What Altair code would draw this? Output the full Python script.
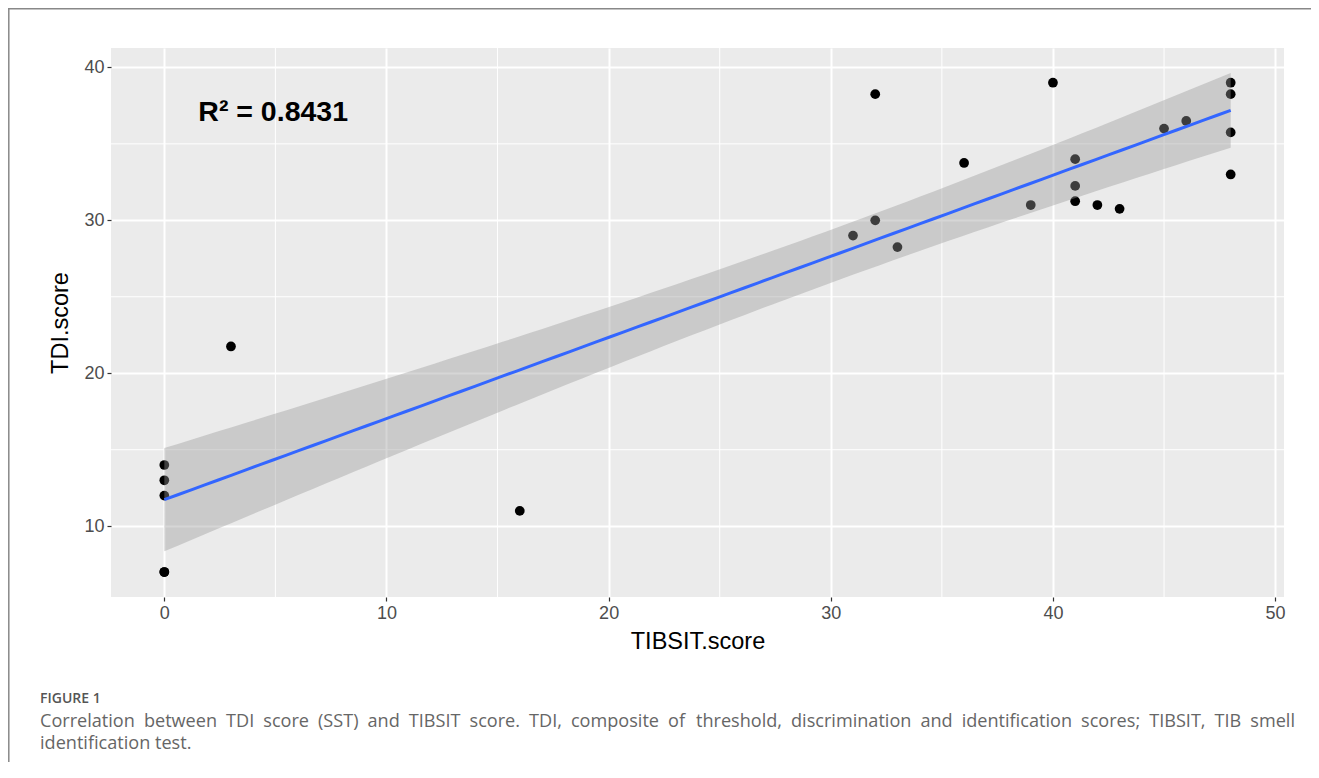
import altair as alt
import numpy as np
import pandas as pd

# ---- data (the point at (0, 7) is drawn twice, overlapping) ----
tibsit = [0, 0, 0, 0, 0, 3, 16, 31, 32, 32, 33, 36, 39, 40, 41, 41, 41, 42, 43, 45, 46, 48, 48, 48, 48]
tdi = [14, 13, 12, 7, 7, 21.75, 11, 29, 30, 38.25, 28.25, 33.75, 31, 39, 34, 32.25, 31.25, 31, 30.75,
       36, 36.5, 39, 38.25, 35.75, 33]

x_major = [0, 10, 20, 30, 40, 50]
y_major = [10, 20, 30, 40]
x_minor = [5, 15, 25, 35, 45]
y_minor = [15, 25, 35]

annotation_text = ["R\u00b2 = 0.8431"]
annotation_x = [4.9]
annotation_y = [36.5]

caption_label = ["FIGURE 1"]
caption_words_1a = ["Correlation", "between", "TDI", "score", "(SST)", "and", "TIBSIT", "score.", "TDI,",
                    "composite", "of"]
caption_words_1b = ["threshold,", "discrimination", "and", "identification", "scores;", "TIBSIT,", "TIB",
                    "smell"]
caption_line2 = ["identification test."]

x_title = "TIBSIT.score"
y_title = "TDI.score"

# ---- linear model with 95% confidence band (as geom_smooth(method='lm')) ----
xa = np.array(tibsit, float)
ya = np.array(tdi, float)
n = len(xa)
slope, intercept = np.polyfit(xa, ya, 1)
xs = np.linspace(xa.min(), xa.max(), 80)
fit = intercept + slope * xs
resid = ya - (intercept + slope * xa)
s = np.sqrt((resid ** 2).sum() / (n - 2))
sxx = ((xa - xa.mean()) ** 2).sum()
se = s * np.sqrt(1.0 / n + (xs - xa.mean()) ** 2 / sxx)
tq = 2.0687  # t quantile 0.975, df = 23
lo = fit - tq * se
hi = fit + tq * se

pts = pd.DataFrame({"tib": tibsit, "tdi": tdi})
smooth = pd.DataFrame({"x": xs, "fit": fit, "lo": lo, "hi": hi})

# ggplot-style 5% expansion
xmin, xmax = xa.min(), xa.max()
ymin, ymax = min(ya.min(), lo.min()), max(ya.max(), hi.max())
xd = [xmin - 0.05 * (xmax - xmin), xmax + 0.05 * (xmax - xmin)]
yd = [ymin - 0.05 * (ymax - ymin), ymax + 0.05 * (ymax - ymin)]

W, H = 1173, 549
PAD = {"left": 103, "top": 40, "right": 27, "bottom": 165}

xscale = alt.Scale(domain=xd, nice=False, zero=False)
yscale = alt.Scale(domain=yd, nice=False, zero=False)

FONT = "Liberation Sans"
CAPFONT = "Open Sans"
CAPSIZE = 18.1
EN = "\u2002"

common_axis = dict(grid=True, gridColor="white", gridWidth=2, domain=False, ticks=True,
                   tickColor="#333333", tickWidth=1.2, tickSize=4, labelColor="#4D4D4D",
                   labelFontSize=18, labelPadding=3, labelFont=FONT, titleFont=FONT,
                   titleFontSize=23.5, titleColor="black", titleFontWeight="normal", format="d")
xaxis = alt.Axis(values=x_major, title=x_title, titlePadding=7, **common_axis)
yaxis = alt.Axis(values=y_major, title=y_title, titlePadding=11, **common_axis)

base_pts = alt.Chart(pts).mark_circle(size=95, color="black", opacity=1).encode(
    x=alt.X("tib:Q", scale=xscale, axis=xaxis),
    y=alt.Y("tdi:Q", scale=yscale, axis=yaxis),
)

minor_x = alt.Chart(pd.DataFrame({"v": x_minor})).mark_rule(color="white", strokeWidth=1).encode(
    x=alt.X("v:Q", scale=xscale)
)
minor_y = alt.Chart(pd.DataFrame({"v": y_minor})).mark_rule(color="white", strokeWidth=1).encode(
    y=alt.Y("v:Q", scale=yscale)
)

ribbon = alt.Chart(smooth).mark_area(color="#999999", opacity=0.4).encode(
    x=alt.X("x:Q", scale=xscale),
    y=alt.Y("lo:Q", scale=yscale),
    y2="hi:Q",
)
line = alt.Chart(smooth).mark_line(color="#3366FF", strokeWidth=3).encode(
    x=alt.X("x:Q", scale=xscale),
    y=alt.Y("fit:Q", scale=yscale),
)

ann = alt.Chart(pd.DataFrame({"x": annotation_x, "y": annotation_y, "t": annotation_text})).mark_text(
    font=FONT, fontSize=28.5, fontWeight="bold", color="black", align="center", baseline="alphabetic"
).encode(
    x=alt.X("x:Q", scale=xscale),
    y=alt.Y("y:Q", scale=yscale),
    text="t:N",
)

cap0 = alt.Chart(pd.DataFrame({"t": caption_label})).mark_text(
    font=CAPFONT, fontSize=14, fontWeight=600, color="#555555", align="left", baseline="alphabetic"
).encode(x=alt.value(-71), y=alt.value(655), text="t:N")
cap1a = alt.Chart(pd.DataFrame({"t": [EN.join(caption_words_1a)]})).mark_text(
    font=CAPFONT, fontSize=CAPSIZE, color="#666666", align="left", baseline="alphabetic"
).encode(x=alt.value(-71), y=alt.value(679), text="t:N")
cap1b = alt.Chart(pd.DataFrame({"t": [EN.join(caption_words_1b)]})).mark_text(
    font=CAPFONT, fontSize=CAPSIZE, color="#666666", align="right", baseline="alphabetic"
).encode(x=alt.value(1184), y=alt.value(679), text="t:N")
cap2 = alt.Chart(pd.DataFrame({"t": caption_line2})).mark_text(
    font=CAPFONT, fontSize=CAPSIZE, color="#666666", align="left", baseline="alphabetic"
).encode(x=alt.value(-71), y=alt.value(701), text="t:N")

border_left = alt.Chart(pd.DataFrame({"a": [0]})).mark_rule(color="#888888", strokeWidth=1.5).encode(
    x=alt.value(-102.2), y=alt.value(-39.3), y2=alt.value(H + PAD["bottom"])
)
border_top = alt.Chart(pd.DataFrame({"a": [0]})).mark_rule(color="#888888", strokeWidth=1.5).encode(
    x=alt.value(-103), x2=alt.value(W + PAD["right"]), y=alt.value(-39.3)
)

chart = alt.layer(
    minor_x, minor_y, base_pts, ribbon, line, ann, cap0, cap1a, cap1b, cap2, border_left, border_top
).properties(
    width=W, height=H, padding=PAD, autosize="none", background="white"
).configure_view(fill="#EBEBEB", strokeWidth=0)

chart.save("out.html", embed_options={"renderer": "svg", "actions": False})
